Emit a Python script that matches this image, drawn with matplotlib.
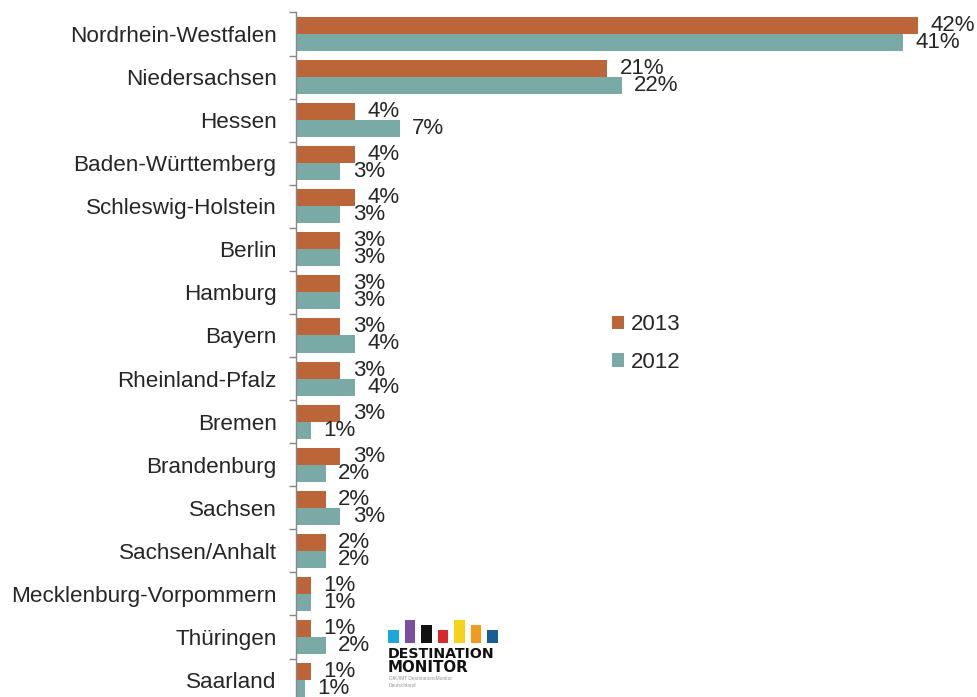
import matplotlib
matplotlib.use("Agg")
import matplotlib.pyplot as plt
import numpy as np

plt.rcParams["font.family"] = ["Liberation Sans", "DejaVu Sans"]

# Bundeslaender, top to bottom
states = [
    "Nordrhein-Westfalen", "Niedersachsen", "Hessen", "Baden-Württemberg",
    "Schleswig-Holstein", "Berlin", "Hamburg", "Bayern", "Rheinland-Pfalz",
    "Bremen", "Brandenburg", "Sachsen", "Sachsen/Anhalt",
    "Mecklenburg-Vorpommern", "Thüringen", "Saarland",
]
share_2013 = [42, 21, 4, 4, 4, 3, 3, 3, 3, 3, 3, 2, 2, 1, 1, 1]
share_2012 = [41, 22, 7, 3, 3, 3, 3, 4, 4, 1, 2, 3, 2, 1, 2, 0.6]
labels_2012 = ["41%", "22%", "7%", "3%", "3%", "3%", "3%", "4%", "4%",
               "1%", "2%", "3%", "2%", "1%", "2%", "1%"]

# logo bar heights (Destination Monitor)
logo_colors = ["#1ba6dc", "#7b4f9e", "#111111", "#d7272f", "#f6d31a", "#f39a1e", "#1a5d94"]
logo_heights = [13, 23, 18.5, 13, 23, 18.5, 13]

c2013 = "#bb6538"
c2012 = "#7aaaa5"
text_col = "#262626"

W, H = 978, 697
fig = plt.figure(figsize=(W / 100, H / 100), dpi=100)

n = len(states)
top_px, pitch = 34 - 43.07 / 2, 43.07
bottom_px = top_px + n * pitch
ax = fig.add_axes([296 / W, (H - bottom_px) / H, (W - 296) / W, (bottom_px - top_px) / H])

y = np.arange(n)
bh = 0.395
ax.barh(y - bh / 2, share_2013, height=bh, color=c2013, label="2013")
ax.barh(y + bh / 2, share_2012, height=bh, color=c2012, label="2012")

for i in range(n):
    ax.annotate(f"{share_2013[i]:.0f}%", (share_2013[i], y[i] - bh / 2),
                xytext=(9, 0), textcoords="offset points", ha="left", va="center",
                fontsize=16, color=text_col)
    ax.annotate(labels_2012[i], (share_2012[i], y[i] + bh / 2),
                xytext=(9, 0), textcoords="offset points", ha="left", va="center",
                fontsize=16, color=text_col)

ax.set_xlim(0, (W - 296) / 14.81)
ax.set_ylim(n - 0.5, -0.5)
ax.set_yticks(y)
ax.set_yticklabels(states, fontsize=16.2, color=text_col)
ax.set_yticks(np.arange(n + 1) - 0.5, minor=True)
ax.tick_params(axis="y", which="major", length=0, pad=14)
ax.tick_params(axis="y", which="minor", length=5, color="#888888", width=1)
ax.set_xticks([])
for side in ["top", "right", "bottom"]:
    ax.spines[side].set_visible(False)
ax.spines["left"].set_color("#888888")
ax.spines["left"].set_linewidth(1)

fig.legend(loc="upper left", bbox_to_anchor=(601 / W, 1 - 303 / H), frameon=False,
           fontsize=16, handlelength=0.55, handleheight=0.55, handletextpad=0.3,
           labelspacing=0.75, borderpad=0, labelcolor=text_col)

# logo
lax = fig.add_axes([386 / W, (H - 643) / H, 114 / W, 26 / H])
lax.bar(np.arange(len(logo_heights)), logo_heights, width=0.62, color=logo_colors)
lax.set_xlim(-0.45, len(logo_heights) - 0.55)
lax.set_ylim(0, 26)
lax.axis("off")
fig.text(388 / W, 1 - 658.5 / H, "DESTINATION", fontsize=10.2, fontweight="bold",
         family="DejaVu Sans", color="#111111", va="baseline", ha="left")
fig.text(388 / W, 1 - 671.5 / H, "MONITOR", fontsize=10.8, fontweight="bold",
         family="DejaVu Sans", color="#111111", va="baseline", ha="left")
fig.text(389 / W, 1 - 682 / H, "GfK/IMT DestinationsMonitor\nDeutschland", fontsize=3.5,
         color="#999999", va="center", ha="left", linespacing=1.3)

fig.savefig("out.png", dpi=100)
